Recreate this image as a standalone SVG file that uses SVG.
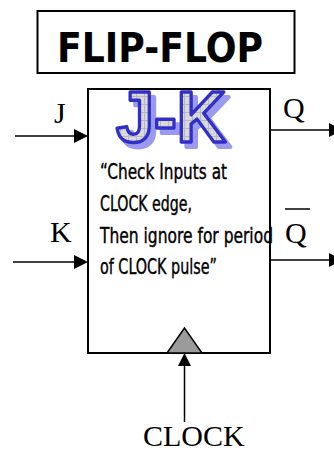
<svg xmlns="http://www.w3.org/2000/svg" width="334" height="451" viewBox="0 0 334 451">
  <style>
    .frame { fill: #fff; stroke: #000; stroke-width: 2; }
    .wire { stroke: #000; stroke-width: 1.5; fill: none; }
    .head { fill: #000; }
    .pin { font-family: "Liberation Serif", "Times New Roman", serif; font-size: 30px; fill: #000; }
    .note { font-family: "DejaVu Sans Condensed", "Liberation Sans", sans-serif; font-size: 22px; fill: #000; stroke: #000; stroke-width: 0.4; }
    .title { font-family: "DejaVu Sans", "Liberation Sans", sans-serif; font-weight: bold; font-size: 40px; fill: #000; }
    .logo { font-family: "Liberation Sans", Arial, sans-serif; font-weight: bold; font-size: 72px; stroke-linejoin: round; }
  </style>
  <defs>
    <!-- light grey tile with a fine grid for the logo lettering -->
    <pattern id="grid" width="8" height="8" patternUnits="userSpaceOnUse">
      <rect width="8" height="8" fill="#d9d9d9"/>
      <path d="M0 0.5H8M0.5 0V8" stroke="#b8b8c4" stroke-width="1"/>
    </pattern>
  </defs>

  <!-- title banner -->
  <g id="title">
    <rect class="frame" x="37.5" y="11" width="257" height="62"/>
    <text class="title" x="57" y="62" textLength="206" lengthAdjust="spacingAndGlyphs">FLIP-FLOP</text>
  </g>

  <!-- flip-flop body -->
  <g id="flipflop">
    <rect class="frame" x="88" y="89" width="182" height="264"/>
    <g id="logo">
      <text class="logo" x="121" y="147" fill="#9a9af0" stroke="#9a9af0" stroke-width="4" textLength="110" lengthAdjust="spacingAndGlyphs">J-K</text>
      <text class="logo" x="116" y="142" fill="url(#grid)" stroke="#3030c8" stroke-width="3.5" textLength="110" lengthAdjust="spacingAndGlyphs">J-K</text>
    </g>
    <text class="note" x="100" y="179" textLength="127" lengthAdjust="spacingAndGlyphs">“Check Inputs at</text>
    <text class="note" x="100" y="211" textLength="92" lengthAdjust="spacingAndGlyphs">CLOCK edge,</text>
    <text class="note" x="100" y="243" textLength="173" lengthAdjust="spacingAndGlyphs">Then ignore for period</text>
    <text class="note" x="100" y="274" textLength="117" lengthAdjust="spacingAndGlyphs">of CLOCK pulse”</text>
    <!-- clock input marker -->
    <polygon points="184.5,328 167,353 202,353" fill="#9b9b9b" stroke="#000" stroke-width="1.5"/>
  </g>

  <!-- pin labels -->
  <g id="labels">
    <text class="pin" x="54" y="123">J</text>
    <text class="pin" x="50" y="242">K</text>
    <text class="pin" x="283" y="118">Q</text>
    <text class="pin" x="285" y="243">Q</text>
    <line x1="285" y1="209" x2="310" y2="209" stroke="#000" stroke-width="1.5"/>
    <text class="pin" x="143" y="446">CLOCK</text>
  </g>

  <!-- connectors -->
  <g id="connectors">
    <line class="wire" x1="15" y1="136" x2="75" y2="136"/>
    <polygon class="head" points="74,129 88,136 74,143"/>
    <line class="wire" x1="13" y1="262" x2="75" y2="262"/>
    <polygon class="head" points="74,255 88,262 74,269"/>
    <line class="wire" x1="270" y1="130" x2="330" y2="130"/>
    <polygon class="head" points="329,123 343,130 329,137"/>
    <line class="wire" x1="270" y1="260" x2="330" y2="260"/>
    <polygon class="head" points="329,253 343,260 329,267"/>
    <line class="wire" x1="184.5" y1="422" x2="184.5" y2="365"/>
    <polygon class="head" points="184.5,353 191,366 178,366"/>
  </g>
</svg>
